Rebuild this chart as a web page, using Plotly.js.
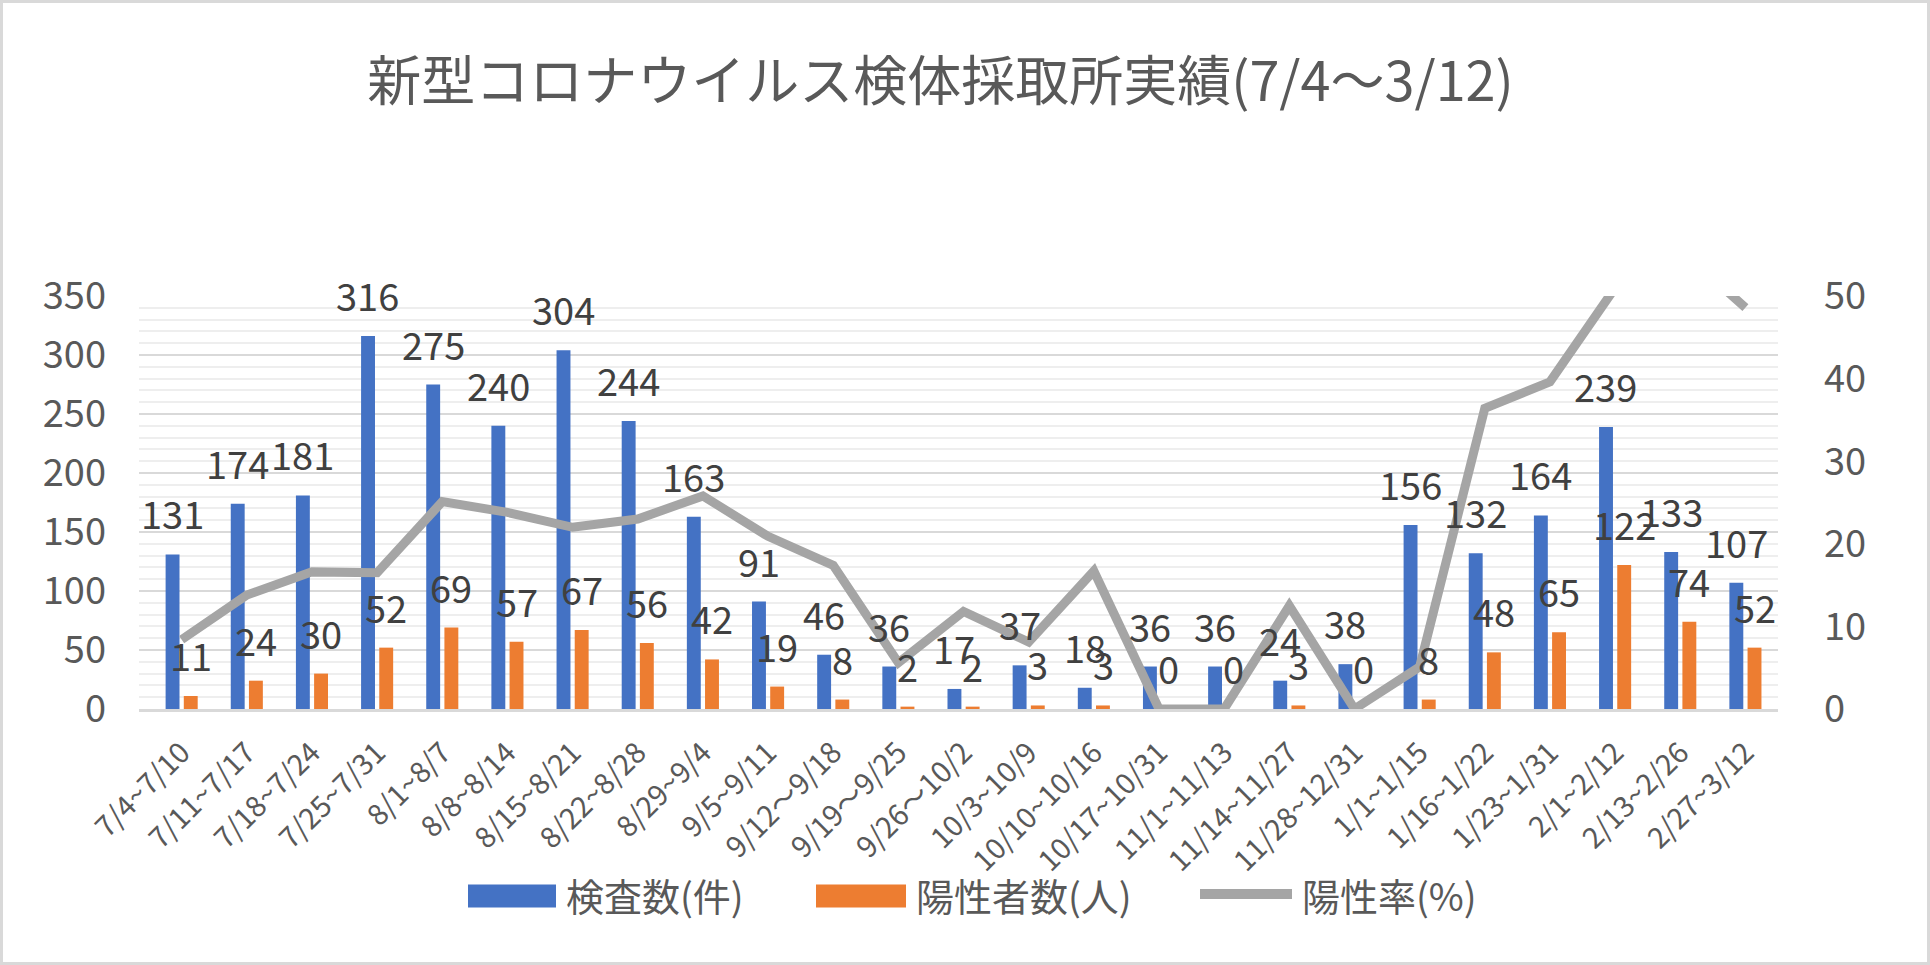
<!DOCTYPE html>
<html>
<head>
<meta charset="utf-8">
<script src="https://cdn.plot.ly/plotly-3.0.1.min.js"></script>
<style>
body{margin:0;background:#fff;}
#wrap{position:relative;width:1930px;height:965px;}
#chart{width:1930px;height:965px;}
#frame{position:absolute;left:0;top:0;width:1930px;height:965px;box-sizing:border-box;border:3px solid #D9D9D9;pointer-events:none;}
</style>
</head>
<body>
<div id="wrap"><div id="chart"></div><div id="frame"></div></div>
<script>
// ---- data ----
const chartTitle = '新型コロナウイルス検体採取所実績(7/4～3/12)';
const periods = ['7/4~7/10','7/11~7/17','7/18~7/24','7/25~7/31','8/1~8/7','8/8~8/14','8/15~8/21','8/22~8/28','8/29~9/4','9/5~9/11','9/12～9/18','9/19～9/25','9/26～10/2','10/3~10/9','10/10~10/16','10/17~10/31','11/1~11/13','11/14~11/27','11/28~12/31','1/1~1/15','1/16~1/22','1/23~1/31','2/1~2/12','2/13~2/26','2/27~3/12'];
const tests = [131,174,181,316,275,240,304,244,163,91,46,36,17,37,18,36,36,24,38,156,132,164,239,133,107];
const positives = [11,24,30,52,69,57,67,56,42,19,8,2,2,3,3,0,0,3,0,8,48,65,122,74,52];
const rates = [8.4,13.8,16.6,16.5,25.1,23.8,22.0,23.0,25.8,20.9,17.4,5.6,11.8,8.1,16.7,0,0,12.5,0,5.1,36.4,39.6,51.0,55.6,48.6];
const seriesNames = ['検査数(件)','陽性者数(人)','陽性率(%)'];
const leftTicks = [0,50,100,150,200,250,300,350];
const rightTicks = [0,10,20,30,40,50];

// ---- style ----
const FONT = '"Noto Sans CJK JP", "Noto Sans", sans-serif';
const BLUE = '#4472C4', ORANGE = '#ED7D31', GRAY = '#A5A5A5';
const TXT = '#595959', LBL = '#404040';
const M = {l:139, r:152, t:296, b:256};
const W = 1930, H = 965;
const pw = W - M.l - M.r, ph = H - M.t - M.b;
const px2x = p => (p - M.l) / pw;
const px2y = p => (H - M.b - p) / ph;

const traces = [
  {type:'bar', name:seriesNames[0], x:periods, y:tests, marker:{color:BLUE}, hoverinfo:'skip'},
  {type:'bar', name:seriesNames[1], x:periods, y:positives, marker:{color:ORANGE}, hoverinfo:'skip'},
  {type:'scatter', mode:'lines', name:seriesNames[2], x:periods, y:rates, yaxis:'y2',
   line:{color:GRAY, width:9}, hoverinfo:'skip'}
];

const annotations = [];
const OFF = 9.15;
const LFS = 38;
periods.forEach((p,i)=>{
  annotations.push({x:p, y:tests[i], xref:'x', yref:'y', text:String(tests[i]), showarrow:false,
    xshift:-OFF, yshift:12, yanchor:'bottom', font:{family:FONT, size:LFS, color:LBL}});
});
periods.forEach((p,i)=>{
  annotations.push({x:p, y:positives[i], xref:'x', yref:'y', text:String(positives[i]), showarrow:false,
    xshift:OFF, yshift:12, yanchor:'bottom', font:{family:FONT, size:LFS, color:LBL}});
});

// custom legend
const shapes = [];
const legY = 896;
const legItems = [
  {kind:'rect', color:BLUE, x0:468, x1:556, tx:564},
  {kind:'rect', color:ORANGE, x0:816, x1:906, tx:914},
  {kind:'line', color:GRAY, x0:1200, x1:1292, tx:1300}
];
legItems.forEach((it,k)=>{
  if(it.kind==='rect'){
    shapes.push({type:'rect', xref:'paper', yref:'paper', x0:px2x(it.x0), x1:px2x(it.x1),
      y0:px2y(legY+11.5), y1:px2y(legY-11.5), fillcolor:it.color, line:{width:0}});
  } else {
    shapes.push({type:'line', xref:'paper', yref:'paper', x0:px2x(it.x0), x1:px2x(it.x1),
      y0:px2y(legY-2), y1:px2y(legY-2), line:{color:it.color, width:10}});
  }
  annotations.push({xref:'paper', yref:'paper', x:px2x(it.tx), y:px2y(legY-2), xanchor:'left', yanchor:'middle',
    text:seriesNames[k], showarrow:false, font:{family:FONT, size:38, color:TXT}});
});

const layout = {
  width:W, height:H, margin:M,
  paper_bgcolor:'#fff', plot_bgcolor:'#fff',
  font:{family:FONT, color:TXT},
  title:{text:chartTitle, font:{family:FONT, size:54, color:TXT},
         xref:'container', yref:'container', x:940.5/W, xanchor:'center', y:1-82/H, yanchor:'middle'},
  showlegend:false,
  barmode:'group', bargap:0.442, bargroupgap:0.235,
  xaxis:{type:'category', tickangle:-45, tickfont:{family:FONT, size:29, color:TXT},
         showline:true, linecolor:'#D9D9D9', linewidth:3, ticks:'', showgrid:false, zeroline:false,
         ticklabelstandoff:12, fixedrange:true, automargin:false},
  yaxis:{range:[0,350], tickvals:leftTicks, tickfont:{family:FONT, size:38, color:TXT},
         showgrid:true, gridcolor:'#D9D9D9', gridwidth:2,
         minor:{dtick:10, showgrid:true, gridcolor:'#EEEEEE', gridwidth:2},
         zeroline:false, showline:false, ticks:'', ticklabelstandoff:32, fixedrange:true, automargin:false},
  yaxis2:{overlaying:'y', side:'right', range:[0,50], tickvals:rightTicks,
          tickfont:{family:FONT, size:38, color:TXT}, showgrid:false, zeroline:false, showline:false,
          ticks:'', ticklabelstandoff:45, fixedrange:true, automargin:false},
  annotations:annotations, shapes:shapes
};

Plotly.newPlot('chart', traces, layout, {displayModeBar:false, staticPlot:true});
</script>
</body>
</html>
